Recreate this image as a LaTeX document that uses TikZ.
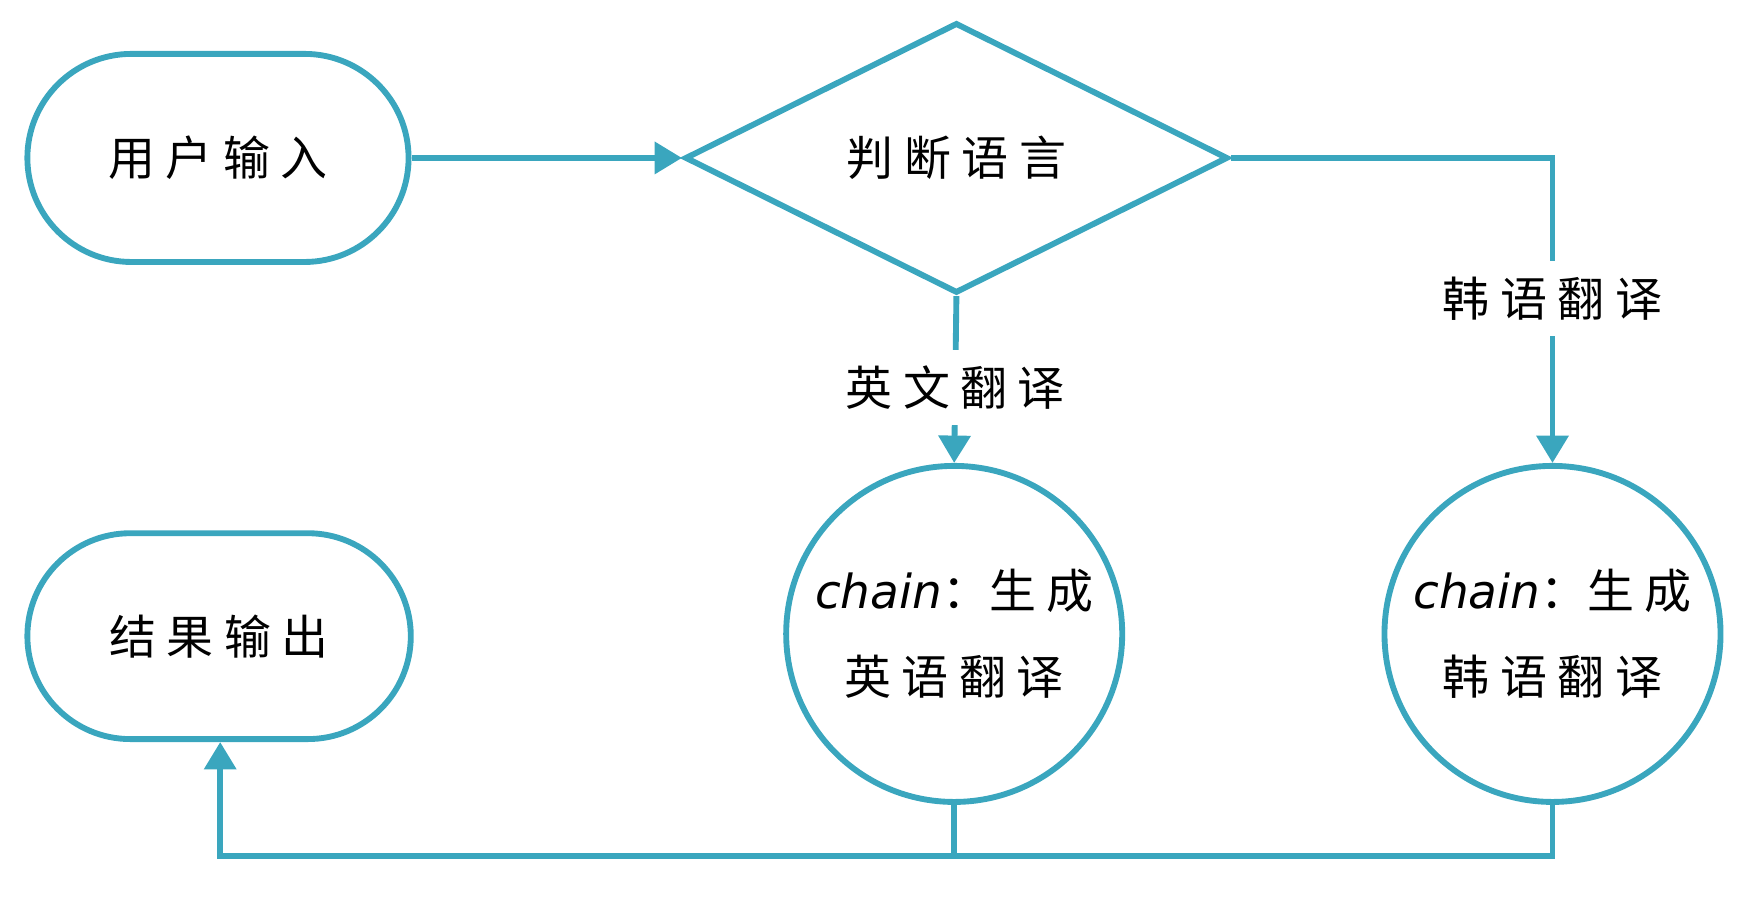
\documentclass[tikz,border=0pt]{standalone}
\usepackage{fontspec}
\setmainfont{Noto Sans CJK SC}
\newfontfamily\latinit{DejaVu Sans}
\usetikzlibrary{shapes.geometric,shapes.misc,arrows.meta}
\definecolor{tl}{HTML}{3AA6BE}
\begin{document}
\begin{tikzpicture}[x=0.01cm,y=-0.01cm,
  ln/.style={draw=tl,line width=1.5pt},
  arr/.style={ln,-{Triangle[length=7pt,width=8pt]}},
  txt/.style={font=\fontsize{12}{18}\selectfont,align=center},
  lbl/.style={txt,fill=white,inner sep=4pt}]
\useasboundingbox (0,0) rectangle (1570,829);
\node[ln,txt,rounded rectangle,minimum width=3.66cm,minimum height=1.87cm] (in) at (196,142) {用 户 输 入};
\node[ln,txt,rounded rectangle,minimum width=3.68cm,minimum height=1.85cm] (out) at (197,572) {结 果 输 出};
\node[ln,txt,diamond,minimum width=4.88cm,minimum height=2.43cm,inner sep=0pt] (d) at (860,142) {判 断 语 言};
\node[ln,txt,circle,minimum size=3.02cm,inner sep=0pt] (c1) at (858,570) {{\latinit\itshape chain}：生 成\\[4pt]英 语 翻 译};
\node[ln,txt,circle,minimum size=3.02cm,inner sep=0pt] (c2) at (1396,570) {{\latinit\itshape chain}：生 成\\[4pt]韩 语 翻 译};
\draw[arr] (in.east) -- (d.west);
\draw[arr] (d.south) -- node[lbl,pos=0.55]{英 文 翻 译} (c1.north);
\draw[arr] (d.east) -| node[lbl,pos=0.73]{韩 语 翻 译} (c2.north);
\coordinate (b1) at (858,770);
\coordinate (b2) at (1396,770);
\coordinate (b0) at (198,770);
\draw[ln] (c1.south) -- (b1);
\draw[ln] (c2.south) -- (b2) -- (b1);
\draw[arr] (b1) -- (b0) -- (out.south -| b0);
\end{tikzpicture}
\end{document}
